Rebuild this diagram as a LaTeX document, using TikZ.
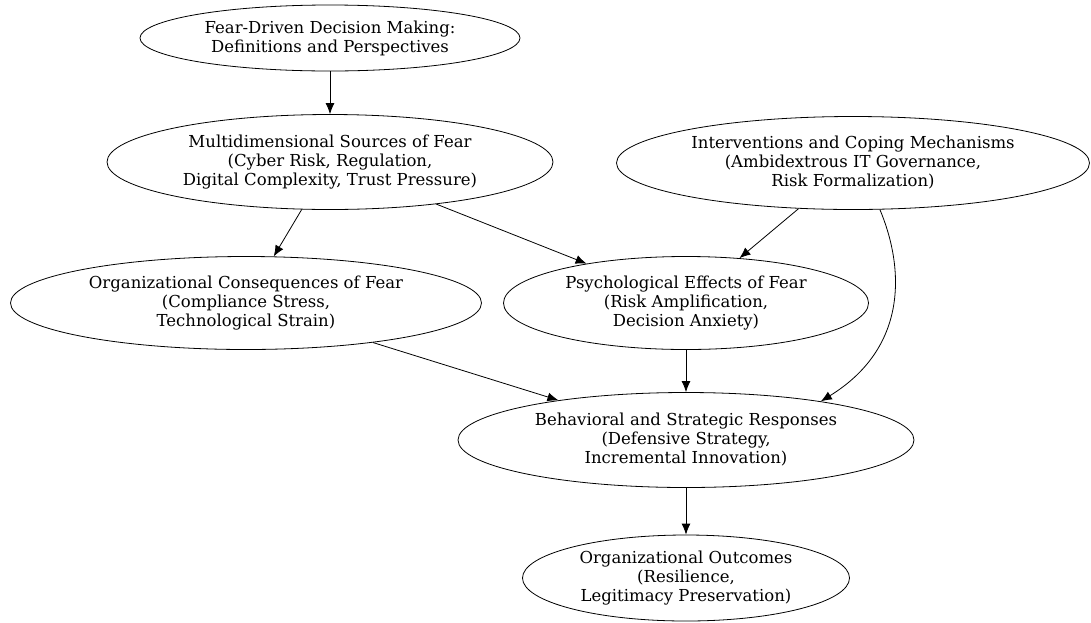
\documentclass[tikz,border=0pt]{standalone}
\usepackage{fontspec}
\setmainfont{DejaVu Serif}
\usetikzlibrary{arrows.meta,shapes.geometric}

\tikzset{
  topic/.style={draw,ellipse,inner sep=0pt,align=center,line width=0.8pt,
    font=\fontsize{16.5}{19}\selectfont},
  link/.style={-{Latex[length=11pt,width=9pt]},line width=0.8pt}
}

\begin{document}
\begin{tikzpicture}[x=1pt,y=-1pt]
    \useasboundingbox (0,0) rectangle (1091,622);

    % definitions
    \node[topic,minimum width=380pt,minimum height=66pt] (defs) at (330,38) {Fear-Driven Decision Making:\\Definitions and Perspectives};

    % sources and interventions
    \node[topic,minimum width=446pt,minimum height=95pt] (sources) at (330,162) {Multidimensional Sources of Fear\\(Cyber Risk, Regulation,\\Digital Complexity, Trust Pressure)};
    \node[topic,minimum width=473pt,minimum height=93pt] (coping) at (853,163) {Interventions and Coping Mechanisms\\(Ambidextrous IT Governance,\\Risk Formalization)};

    % effects of fear
    \node[topic,minimum width=471pt,minimum height=93pt] (orgcons) at (246,303) {Organizational Consequences of Fear\\(Compliance Stress,\\Technological Strain)};
    \node[topic,minimum width=365pt,minimum height=93pt] (psych) at (686,303) {Psychological Effects of Fear\\(Risk Amplification,\\Decision Anxiety)};

    % responses and outcomes
    \node[topic,minimum width=456pt,minimum height=95pt] (responses) at (686,440) {Behavioral and Strategic Responses\\(Defensive Strategy,\\Incremental Innovation)};
    \node[topic,minimum width=327pt,minimum height=86pt] (outcomes) at (686,578) {Organizational Outcomes\\(Resilience,\\Legitimacy Preservation)};

    %%%%%%%%%%%%%%%%%%%%%%%%%%%%%%%%%%%%%%%%%%%%%%%%%%%%%%%%%

    \draw[link] (defs) to (sources);
    \draw[link] (sources) to (orgcons);
    \draw[link] (sources) to (psych);
    \draw[link] (coping) to (psych);
    \draw[link] (coping.-60) .. controls (902,262) and (912,345) .. (responses.16);
    \draw[link] (orgcons) to (responses);
    \draw[link] (psych) to (responses);
    \draw[link] (responses) to (outcomes);

\end{tikzpicture}
\end{document}
